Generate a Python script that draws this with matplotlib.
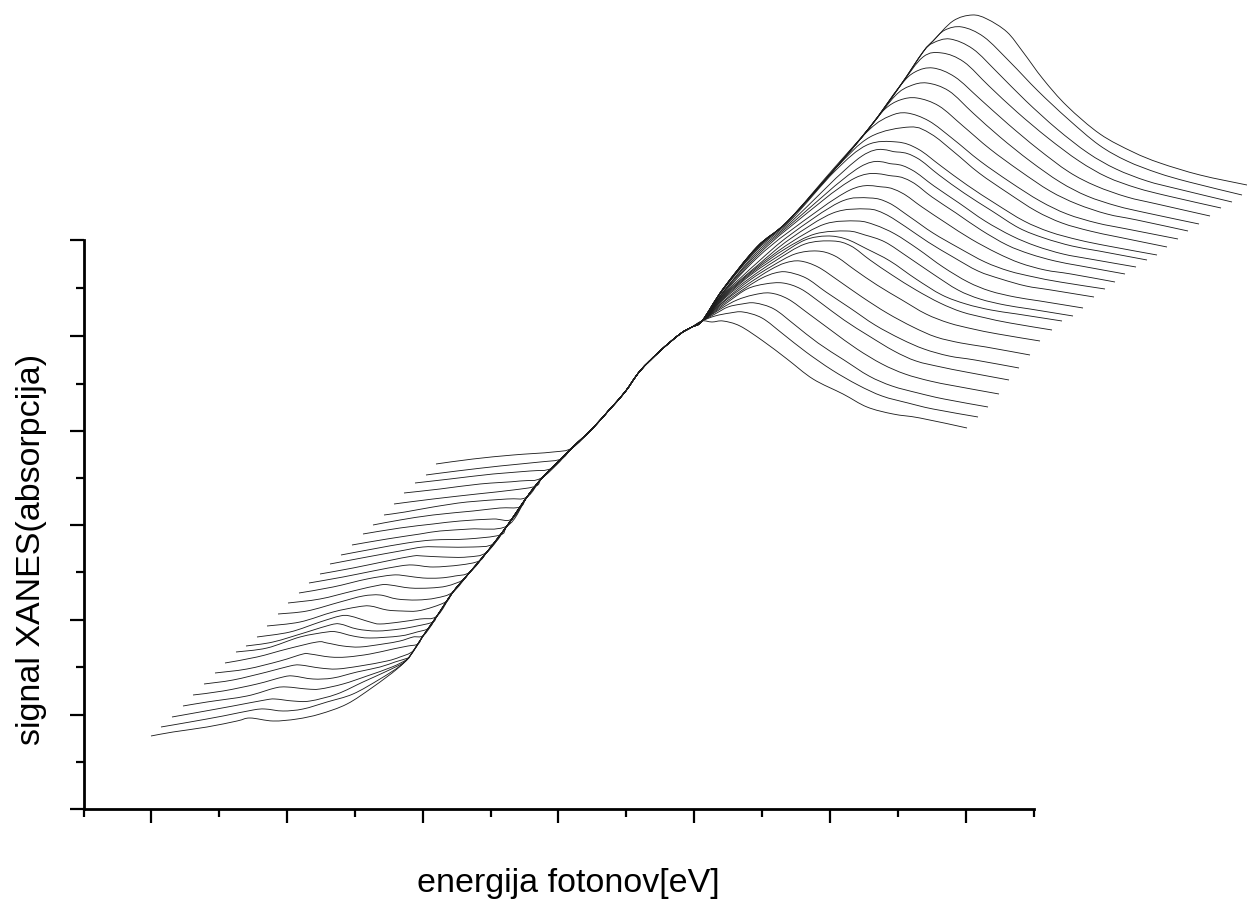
import matplotlib
matplotlib.use("Agg")
import matplotlib.pyplot as plt
import numpy as np
from matplotlib.path import Path
from matplotlib.patches import PathPatch

x_label = "energija fotonov[eV]"
y_label = "signal XANES(absorpcija)"
x_major = [151, 287, 423, 558, 694, 830, 966]
x_minor = [84, 219, 355, 491, 626, 762, 898, 1034]
y_major = [241, 337, 432, 526, 621, 716, 810]
y_minor = [289, 385, 479, 573, 668, 763]

# pre-edge branch of every spectrum
pre = [
 [(151,737),(173,733),(207,728),(237,722),(250,719),(273,722),(297,720),(320,715),(347,705),(373,688),(397,670)],
 [(161,728),(190,723),(223,717),(253,711),(265,710),(283,712),(303,710),(327,703),(353,695),(380,680),(400,667)],
 [(172,718),(200,713),(233,707),(265,701),(275,700),(293,702),(310,702),(337,695),(363,683),(385,673),(403,664)],
 [(183,707),(207,703),(247,697),(275,689),(287,688),(307,690),(320,690),(343,685),(367,677),(392,668),(406,661)],
 [(193,696),(223,692),(257,685),(283,678),(293,677),(313,680),(333,679),(357,673),(380,668),(395,663),(408,659)],
 [(204,685),(233,681),(267,673),(290,667),(300,666),(320,669),(337,670),(360,667),(387,662),(400,658),(413,652)],
 [(215,674),(247,670),(280,662),(303,655),(310,655),(330,658),(347,658),(370,655),(393,650),(408,647),(418,645)],
 [(225,664),(257,658),(287,650),(317,643),(327,644),(343,647),(360,648),(383,645),(400,642),(413,638),(424,636)],
 [(236,653),(267,649),(300,638),(327,633),(337,633),(353,637),(370,639),(400,637),(417,633),(429,629)],
 [(246,647),(273,643),(307,633),(330,626),(340,625),(357,630),(377,632),(400,630),(417,627),(433,623)],
 [(257,638),(290,633),(320,623),(340,617),(350,617),(370,623),(380,625),(400,623),(420,620),(437,617)],
 [(267,627),(300,623),(333,613),(357,608),(370,607),(387,611),(402,612),(417,612),(433,608),(447,602)],
 [(278,615),(307,612),(340,603),(363,597),(380,596),(397,600),(417,601),(436,599),(453,593)],
 [(288,604),(320,600),(353,592),(380,586),(390,586),(410,589),(430,589),(447,587),(463,581)],
 [(299,594),(333,588),(367,580),(393,576),(407,577),(423,579),(440,579),(455,577),(470,573)],
 [(309,584),(343,578),(373,572),(400,567),(413,566),(433,568),(460,566),(479,562)],
 [(320,575),(353,569),(387,562),(413,557),(423,557),(443,558),(467,558),(487,553)],
 [(330,565),(367,558),(400,552),(423,548),(443,548),(473,548),(493,545)],
 [(341,556),(373,550),(407,544),(433,541),(467,540),(500,536)],
 [(352,546),(387,540),(420,535),(440,532),(470,530),(507,527)],
 [(363,535),(400,529),(433,525),(460,522),(493,520),(512,520)],
 [(373,526),(400,521),(433,516),(473,512),(500,509),(520,508)],
 [(384,516),(405,513),(433,508),(467,503),(507,500),(527,498)],
 [(394,505),(433,500),(477,495),(513,491),(536,487)],
 [(404,494),(440,490),(480,485),(520,482),(543,478)],
 [(415,484),(450,480),(493,475),(530,472),(552,469)],
 [(426,476),(457,472),(500,467),(540,463),(561,460)],
 [(436,465),(473,460),(513,456),(553,453),(572,449)],
]

# absorption edge shared by all spectra
edge = [(397,670),(410,657),(423,637),(437,617),(453,593),(470,573),(487,553),(507,527),(527,498),
        (543,478),(572,449),(592,430),(610,410),(625,393),(640,372),(660,352),(680,335),(692,328),(702,322)]

# white line: rise to the maximum and fall to the end of the scan
post = [
 [(712,323),(723,322),(740,327),(763,342),(787,360),(813,380),(843,395),(867,408),(893,415),(920,419),(967,429)],
 [(715,317),(730,314),(743,313),(762,319),(783,335),(806,353),(832,371),(858,386),(882,397),(908,404),(933,410),(978,418)],
 [(715,315),(728,308),(742,305),(755,304),(774,310),(795,326),(818,344),(844,361),(869,377),(892,387),(918,394),(944,400),(988,408)],
 [(722,309),(737,301),(753,296),(770,294),(788,300),(809,315),(832,332),(857,350),(882,365),(905,375),(930,382),(955,387),(999,395)],
 [(728,303),(747,290),(765,285),(783,284),(801,290),(821,304),(844,321),(869,337),(894,352),(916,362),(941,368),(966,373),(1009,381)],
 [(727,302),(747,288),(762,279),(775,274),(787,273),(806,279),(826,293),(850,309),(875,326),(901,340),(924,350),(949,357),(975,361),(1019,369)],
 [(726,301),(748,285),(770,271),(785,264),(800,262),(818,268),(839,282),(862,298),(887,314),(913,328),(936,338),(961,344),(986,348),(1030,356)],
 [(726,300),(750,281),(772,267),(795,255),(817,252),(835,257),(855,271),(877,286),(902,301),(926,315),(949,324),(973,330),(998,335),(1040,342)],
 [(725,299),(750,279),(775,262),(805,245),(833,242),(851,247),(870,261),(892,276),(916,291),(940,304),(962,313),(986,319),(1010,324),(1052,331)],
 [(725,298),(752,275),(780,256),(805,241),(827,237),(846,240),(867,250),(890,262),(916,280),(942,296),(966,305),(991,311),(1017,315),(1062,322)],
 [(725,297),(754,272),(785,250),(815,235),(847,232),(865,236),(885,243),(908,258),(933,275),(958,291),(980,300),(1005,306),(1030,310),(1073,317)],
 [(725,296),(756,269),(790,244),(825,225),(857,222),(875,226),(895,235),(918,250),(943,268),(968,283),(990,292),(1015,298),(1040,302),(1083,309)],
 [(725,295),(758,266),(790,240),(833,214),(867,210),(885,215),(906,228),(928,243),(953,258),(978,272),(1001,280),(1026,287),(1051,291),(1094,298)],
 [(725,294),(758,263),(790,236),(840,203),(870,199),(889,204),(910,218),(933,234),(959,249),(985,263),(1009,272),(1034,278),(1060,283),(1105,290)],
 [(725,293),(757,259),(790,232),(850,191),(883,188),(902,194),(922,208),(946,224),(971,240),(997,254),(1020,264),(1045,271),(1071,275),(1115,283)],
 [(724,293),(757,257),(790,228),(855,179),(893,177),(912,183),(932,198),(956,214),(981,231),(1007,246),(1030,255),(1055,262),(1081,267),(1125,275)],
 [(724,292),(757,255),(790,226),(860,168),(893,165),(912,171),(934,187),(959,204),(985,222),(1012,237),(1036,247),(1063,255),(1090,260),(1136,268)],
 [(724,292),(757,253),(790,224),(862,157),(897,153),(917,159),(939,176),(964,194),(992,212),(1019,229),(1044,239),(1072,247),(1099,252),(1147,261)],
 [(723,291),(757,251),(790,222),(835,172),(867,146),(897,143),(918,150),(941,167),(967,186),(996,205),(1024,222),(1050,233),(1079,241),(1108,247),(1157,256)],
 [(723,291),(757,250),(788,222),(835,170),(870,138),(910,128),(931,135),(954,153),(979,174),(1008,194),(1036,212),(1062,224),(1090,232),(1118,238),(1167,248)],
 [(723,290),(757,249),(788,222),(835,168),(870,130),(890,117),(907,114),(929,122),(953,140),(980,162),(1010,183),(1040,202),(1067,215),(1097,224),(1127,230),(1178,240)],
 [(723,290),(757,248),(787,223),(833,172),(870,128),(885,110),(900,101),(917,99),(939,107),(963,127),(990,150),(1020,172),(1050,192),(1077,205),(1107,215),(1137,221),(1188,232)],
 [(723,290),(757,248),(787,223),(833,172),(870,128),(895,97),(910,87),(927,84),(949,92),(973,114),(1000,138),(1030,162),(1060,183),(1087,197),(1117,207),(1147,214),(1199,225)],
 [(723,290),(757,248),(787,223),(833,172),(870,128),(900,87),(915,73),(933,69),(955,78),(980,100),(1008,125),(1038,150),(1069,173),(1096,187),(1127,198),(1157,205),(1210,217)],
 [(723,290),(757,248),(787,223),(833,172),(870,128),(900,87),(923,58),(942,54),(964,63),(989,87),(1017,113),(1048,139),(1079,162),(1107,178),(1137,189),(1168,197),(1221,209)],
 [(723,290),(757,248),(787,223),(833,172),(870,128),(900,87),(923,53),(933,44),(950,40),(973,50),(998,74),(1026,102),(1057,130),(1088,154),(1116,170),(1147,182),(1178,190),(1232,203)],
 [(723,290),(757,248),(787,223),(833,172),(870,128),(900,87),(923,53),(933,42),(945,31),(962,28),(984,38),(1010,63),(1038,92),(1068,120),(1099,146),(1127,162),(1158,174),(1189,183),(1242,196)],
 [(723,290),(757,248),(787,223),(833,172),(870,128),(900,87),(923,53),(933,42),(953,22),(972,16),(987,20),(1007,33),(1023,53),(1043,80),(1067,107),(1100,135),(1133,153),(1160,164),(1200,176),(1247,186)],
]

plt.rcParams["font.family"] = ["Liberation Sans", "DejaVu Sans"]
fig = plt.figure(figsize=(12.47, 9.03), dpi=100, facecolor="white")
ax = fig.add_axes([84/1247, (903-810)/903, 950/1247, 569/903])
ax.set_xlim(84, 1034)
ax.set_ylim(810, 241)


def smooth_path(points):
    """Bezier path running through the read points."""
    p = np.array(points, dtype=float)
    verts = [p[0]]
    codes = [Path.MOVETO]
    for i in range(len(p) - 1):
        a = p[max(i - 1, 0)]
        b = p[i]
        c = p[i + 1]
        d = p[min(i + 2, len(p) - 1)]
        verts += [b + (c - a) / 6, c - (d - b) / 6, c]
        codes += [Path.CURVE4] * 3
    return Path(verts, codes)


for low, high in zip(pre, post):
    mid = [q for q in edge if low[-1][0] < q[0] < high[0][0]]
    ax.add_patch(PathPatch(smooth_path(low + mid + high), fill=False, edgecolor="#1c1c1c",
                           lw=0.62, clip_on=False, joinstyle="round"))

for name in ("top", "right"):
    ax.spines[name].set_visible(False)
for name in ("left", "bottom"):
    ax.spines[name].set_linewidth(2.0)
ax.set_xticks(x_major)
ax.set_xticks(x_minor, minor=True)
ax.set_yticks(y_major)
ax.set_yticks(y_minor, minor=True)
ax.tick_params(which="major", length=10, width=1.6, labelbottom=False, labelleft=False)
ax.tick_params(which="minor", length=5.8, width=1.6)

fig.text(568.5/1247, 1-884/903, x_label, ha="center", va="center", fontsize=24.5, color="black")
fig.text(32/1247, 1-549/903, y_label, ha="center", va="center", rotation=90, fontsize=24.5, color="black")
fig.savefig("out.png", dpi=100, facecolor="white")
